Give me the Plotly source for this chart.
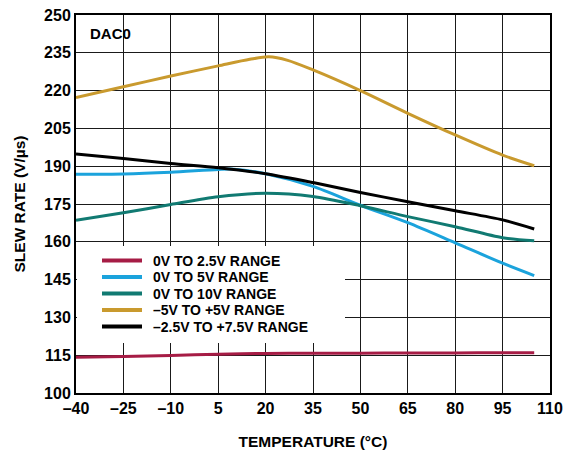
import plotly.graph_objects as go

# ---- data ----
series_names = ["0V TO 2.5V RANGE", "0V TO 5V RANGE", "0V TO 10V RANGE",
                "\u20135V TO +5V RANGE", "\u20132.5V TO +7.5V RANGE"]
series_colors = ["#A61C45", "#1BA3DC", "#117A72", "#C99A2E", "#000000"]

temps = [-40, -25, -10, 5, 20, 35, 50, 65, 80, 95, 105]
red_vals = [114.2, 114.5, 114.9, 115.4, 115.7, 115.8, 115.8, 115.9, 115.9, 116.0, 116.0]
blue_temps = [-40, -25, -10, 5, 10, 20, 35, 50, 65, 80, 95, 105]
blue_vals = [186.8, 186.9, 187.6, 188.7, 188.8, 187.0, 182.0, 174.5, 167.6, 159.6, 151.5, 146.6]
teal_vals = [168.5, 171.5, 174.8, 177.9, 179.3, 178.0, 174.3, 170.0, 166.0, 161.6, 160.4]
gold_temps = [-40, -25, -10, 5, 15, 21, 27, 35, 50, 65, 80, 95, 105]
gold_vals = [217.2, 221.5, 225.8, 229.8, 232.4, 233.4, 232.0, 228.2, 220.0, 211.0, 202.4, 194.4, 190.2]
black_vals = [194.8, 193.1, 191.1, 189.4, 187.0, 183.5, 179.6, 175.9, 172.3, 168.7, 165.1]

x_ticks = [-40, -25, -10, 5, 20, 35, 50, 65, 80, 95, 110]
x_tick_labels = ["\u201340", "\u201325", "\u201310", "5", "20", "35", "50", "65", "80", "95", "110"]
y_ticks = [100, 115, 130, 145, 160, 175, 190, 205, 220, 235, 250]

series_x = [temps, blue_temps, temps, gold_temps, temps]
series_y = [red_vals, blue_vals, teal_vals, gold_vals, black_vals]

FONT = "Liberation Sans, Arial, sans-serif"

fig = go.Figure()

for name, color, xs, ys in zip(series_names, series_colors, series_x, series_y):
    fig.add_trace(go.Scatter(
        x=xs, y=ys, mode="lines", name=name,
        line=dict(color=color, width=3, shape="spline", smoothing=0.8),
        showlegend=False, hoverinfo="x+y+name"))

# ---- manual legend (paper coordinates, derived from on-screen plot box) ----
L, R, T, B = 76, 550, 15, 393
W, H = R - L, B - T
def px(x):
    return (x - L) / W
def py(y):
    return (B - y) / H

shapes = []
annotations = []
# white box behind legend (hides grid); no data passes through this region
shapes.append(dict(type="rect", xref="paper", yref="paper",
                   x0=px(L + 1), x1=px(345), y0=py(343), y1=py(246),
                   fillcolor="white", line=dict(width=0), layer="above"))
row_y = [260.5, 277.0, 293.5, 310.0, 326.5]
for name, color, ry in zip(series_names, series_colors, row_y):
    shapes.append(dict(type="line", xref="paper", yref="paper",
                       x0=px(102), x1=px(142), y0=py(ry), y1=py(ry),
                       line=dict(color=color, width=4), layer="above"))
    annotations.append(dict(xref="paper", yref="paper", x=px(151), y=py(ry),
                            text="<b>%s</b>" % name, showarrow=False,
                            xanchor="left", yanchor="middle",
                            font=dict(family=FONT, size=14, color="black")))

annotations.append(dict(xref="paper", yref="paper", x=px(88), y=py(33),
                        text="<b>DAC0</b>", showarrow=False,
                        xanchor="left", yanchor="middle",
                        font=dict(family=FONT, size=15, color="black")))

# page offset compensation (figure is drawn 8px in from the page corner)
OFF = 8
FIG_W, FIG_H = 556, 451

fig.update_layout(
    template="none",
    autosize=False,
    width=FIG_W, height=FIG_H,
    margin=dict(l=L - OFF, r=FIG_W + OFF - R, t=T - OFF, b=FIG_H + OFF - B,
                pad=0, autoexpand=False),
    paper_bgcolor="white", plot_bgcolor="white",
    shapes=shapes, annotations=annotations,
    font=dict(family=FONT, color="black"),
    xaxis=dict(
        range=[-40, 110], tickmode="array", tickvals=x_ticks,
        ticktext=["<b>%s</b>" % t for t in x_tick_labels],
        tickfont=dict(family=FONT, size=16, color="black"),
        showgrid=True, gridcolor="#1a1a1a", gridwidth=1.2,
        showline=True, linecolor="black", linewidth=2, mirror=True,
        zeroline=False, ticks="", automargin=False, ticklabeloverflow="allow",
        title=dict(text="<b>TEMPERATURE (\u00b0C)</b>",
                   font=dict(family=FONT, size=15.5, color="black"), standoff=20),
    ),
    yaxis=dict(
        range=[100, 250], tickmode="array", tickvals=y_ticks,
        ticktext=["<b>%d</b>" % v for v in y_ticks],
        tickfont=dict(family=FONT, size=16, color="black"),
        showgrid=True, gridcolor="#1a1a1a", gridwidth=1.2,
        showline=True, linecolor="black", linewidth=2, mirror=True,
        zeroline=False, ticks="", automargin=False, ticklabeloverflow="allow",
        title=dict(text="<b>SLEW RATE (V/\u00b5s)</b>",
                   font=dict(family=FONT, size=15.5, color="black"), standoff=15),
    ),
)

fig.write_html("out.html")
